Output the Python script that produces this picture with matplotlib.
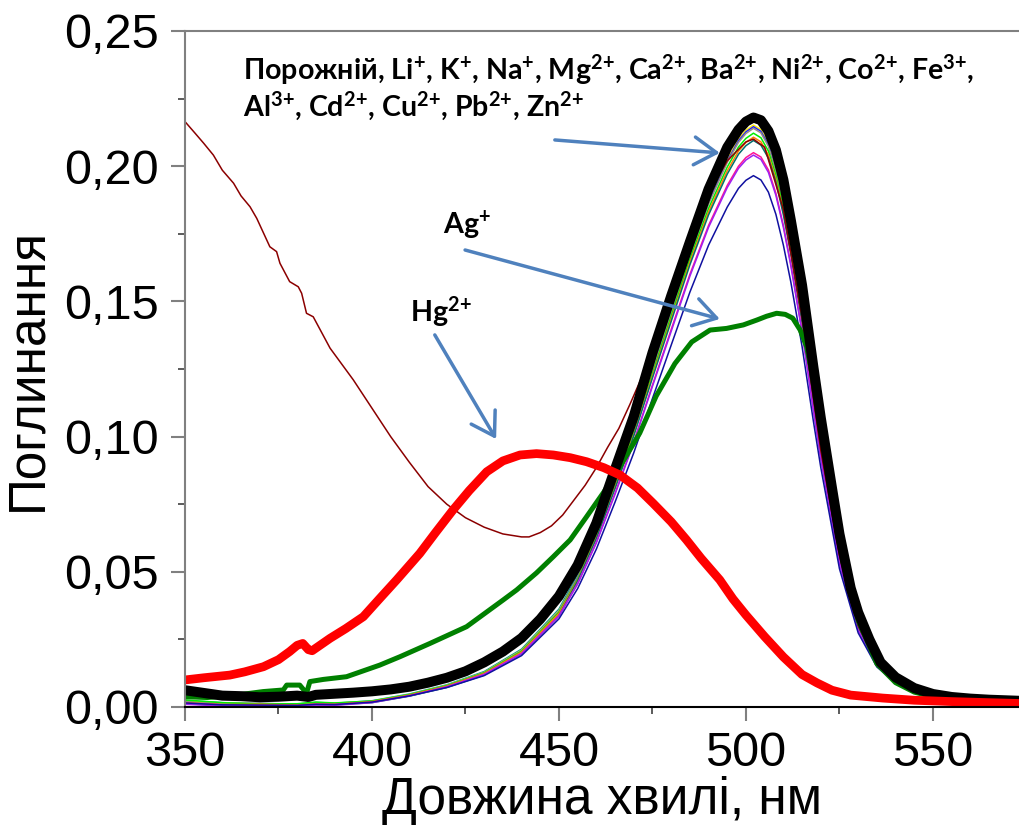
import numpy as np
import matplotlib.pyplot as plt
import matplotlib.ticker as ticker

# ---- data ----
wl_black = [350, 355, 360, 365, 370, 375, 380, 383, 385, 390, 395, 400, 405, 410, 415, 420, 425,
            430, 435, 440, 445, 450, 455, 460, 465, 470, 475, 480, 485, 490, 495, 498, 500, 502,
            504, 506, 508, 510, 512, 515, 518, 520, 523, 525, 528, 530, 533, 536, 540, 545, 550,
            555, 560, 565, 573]
a_black = [0.0062, 0.0052, 0.0042, 0.0040, 0.0036, 0.0038, 0.0042, 0.0037, 0.0045, 0.0049, 0.0053,
           0.0058, 0.0065, 0.0075, 0.0090, 0.0108, 0.0132, 0.0165, 0.0205, 0.0255, 0.0325, 0.0410,
           0.0525, 0.0680, 0.0880, 0.1075, 0.1310, 0.1520, 0.1720, 0.1915, 0.2070, 0.2135, 0.2165,
           0.2180, 0.2170, 0.2130, 0.2060, 0.1950, 0.1800, 0.1560, 0.1260, 0.1070, 0.0810, 0.0640,
           0.0440, 0.0350, 0.0250, 0.0165, 0.0110, 0.0070, 0.0048, 0.0037, 0.0031, 0.0027, 0.0023]

wl_red = [350, 355, 362, 366, 371, 375, 378, 380, 381.5, 383, 384, 388.8, 393, 397.7, 402, 406.6,
          412.8, 417, 421.7, 426, 430.7, 435, 439.6, 444, 448.5, 453, 457.4, 462, 466.3, 471,
          475.2, 480, 484.1, 488, 493, 496.5, 500, 505, 510, 515, 519, 523, 528, 536.6, 545, 555,
          565, 573]
a_red = [0.0100, 0.0108, 0.0118, 0.0130, 0.0149, 0.0175, 0.0205, 0.0228, 0.0235, 0.0212, 0.0208,
         0.0254, 0.0290, 0.0334, 0.0400, 0.0470, 0.0568, 0.0645, 0.0729, 0.0800, 0.0870, 0.0910,
         0.0932, 0.0937, 0.0932, 0.0922, 0.0907, 0.0885, 0.0858, 0.0810, 0.0753, 0.0685, 0.0618,
         0.0550, 0.0470, 0.0400, 0.0340, 0.0260, 0.0185, 0.0120, 0.0089, 0.0062, 0.0044, 0.0033,
         0.0025, 0.0020, 0.0016, 0.0013]

wl_green = [350, 356, 363.8, 370.9, 376.3, 377.2, 380.7, 382.5, 383.4, 387, 393.2, 402.1, 407.5,
            415.5, 425.3, 435.1, 438.7, 444, 448.5, 453, 457.4, 462, 466.3, 471.6, 476, 481, 485.5,
            490.4, 494.8, 499.3, 502.9, 505.5, 508.2, 510.5, 512.5, 514.5, 516.2, 518, 520, 522.5,
            525, 528, 530, 535, 540, 545, 550, 560, 573]
a_green = [0.0038, 0.0035, 0.0044, 0.0057, 0.0063, 0.0081, 0.0081, 0.0051, 0.0094, 0.0102, 0.0112,
           0.0155, 0.0186, 0.0235, 0.0297, 0.0396, 0.0433, 0.0496, 0.0556, 0.0618, 0.0704, 0.0795,
           0.0889, 0.1013, 0.1150, 0.1270, 0.1350, 0.1394, 0.1400, 0.1413, 0.1431, 0.1445, 0.1456,
           0.1452, 0.1438, 0.1394, 0.1333, 0.1210, 0.1050, 0.0820, 0.0620, 0.0420, 0.0320, 0.0160,
           0.0090, 0.0055, 0.0038, 0.0025, 0.0020]

wl_brown = [350, 352.7, 355, 357.6, 360, 363, 365, 367.4, 369.2, 372.7, 374.5, 375.4, 378, 380.3,
            381.2, 382.5, 384.3, 388.8, 395, 400, 405, 410, 415, 420, 425, 430, 435, 440, 442, 445,
            448, 451, 454, 457, 460, 463, 466, 469, 472, 476, 480, 485, 490, 495, 500, 502, 505,
            510, 515, 520, 525, 530, 535, 540, 550, 560, 573]
a_brown = [0.2165, 0.2122, 0.2085, 0.2041, 0.1985, 0.1937, 0.1890, 0.1850, 0.1807, 0.1702, 0.1684,
           0.1641, 0.1573, 0.1554, 0.1530, 0.1456, 0.1443, 0.1327, 0.1210, 0.1105, 0.1000, 0.0905,
           0.0815, 0.0750, 0.0700, 0.0665, 0.0640, 0.0629, 0.0629, 0.0645, 0.0670, 0.0710, 0.0765,
           0.0820, 0.0885, 0.0960, 0.1030, 0.1120, 0.1215, 0.1370, 0.1520, 0.1720, 0.1900, 0.2020,
           0.2090, 0.2100, 0.2070, 0.1840, 0.1440, 0.0950, 0.0560, 0.0300, 0.0165, 0.0100, 0.0042,
           0.0028, 0.0019]

# thin curves of the other cations, common wavelength grid
wl_thin = [350, 360, 370, 380, 385, 390, 400, 410, 420, 430, 440, 450, 455, 460, 465, 470, 475, 480,
           485, 490, 495, 498, 500, 502, 504, 506, 508, 510, 512, 515, 518, 520, 525, 530, 535, 540,
           550, 560, 573]
a_cyan = [0.0024, 0.0016, 0.0013, 0.0011, 0.0017, 0.0014, 0.0023, 0.0048, 0.0082, 0.0131, 0.0214, 0.0362,
          0.0490, 0.0652, 0.0845, 0.1048, 0.1272, 0.1491, 0.1710, 0.1903, 0.2061, 0.2137, 0.2171, 0.2190,
          0.2173, 0.2122, 0.2030, 0.1903, 0.1750, 0.1486, 0.1181, 0.0987, 0.0570, 0.0305, 0.0163, 0.0097,
          0.0041, 0.0026, 0.0019]
a_yellow = [0.0022, 0.0014, 0.0012, 0.0010, 0.0016, 0.0013, 0.0021, 0.0046, 0.0080, 0.0128, 0.0210, 0.0356,
            0.0480, 0.0640, 0.0830, 0.1030, 0.1250, 0.1465, 0.1680, 0.1870, 0.2025, 0.2100, 0.2133, 0.2152,
            0.2135, 0.2085, 0.1995, 0.1870, 0.1720, 0.1460, 0.1160, 0.0970, 0.0560, 0.0300, 0.0160, 0.0095,
            0.0040, 0.0025, 0.0018]
a_blue = [0.0018, 0.0010, 0.0008, 0.0006, 0.0012, 0.0010, 0.0019, 0.0044, 0.0078, 0.0126, 0.0207, 0.0352,
          0.0479, 0.0638, 0.0828, 0.1027, 0.1247, 0.1461, 0.1675, 0.1865, 0.2019, 0.2094, 0.2127, 0.2146,
          0.2129, 0.2079, 0.1989, 0.1865, 0.1715, 0.1456, 0.1157, 0.0967, 0.0558, 0.0299, 0.0160, 0.0095,
          0.0040, 0.0025, 0.0018]
a_gray = [0.0020, 0.0012, 0.0014, 0.0009, 0.0014, 0.0012, 0.0020, 0.0045, 0.0079, 0.0127, 0.0208, 0.0354,
          0.0477, 0.0636, 0.0825, 0.1024, 0.1243, 0.1457, 0.1671, 0.1860, 0.2014, 0.2088, 0.2121, 0.2140,
          0.2123, 0.2073, 0.1984, 0.1860, 0.1710, 0.1452, 0.1154, 0.0965, 0.0557, 0.0298, 0.0159, 0.0094,
          0.0040, 0.0025, 0.0018]
a_lime = [0.0026, 0.0016, 0.0011, 0.0012, 0.0018, 0.0015, 0.0022, 0.0046, 0.0079, 0.0126, 0.0206, 0.0350,
          0.0473, 0.0631, 0.0818, 0.1016, 0.1233, 0.1445, 0.1657, 0.1844, 0.1997, 0.2071, 0.2103, 0.2122,
          0.2105, 0.2056, 0.1967, 0.1844, 0.1696, 0.1440, 0.1144, 0.0957, 0.0552, 0.0296, 0.0158, 0.0094,
          0.0040, 0.0025, 0.0018]
a_orange = [0.0016, 0.0009, 0.0010, 0.0007, 0.0011, 0.0010, 0.0020, 0.0044, 0.0077, 0.0124, 0.0203, 0.0346,
            0.0470, 0.0627, 0.0813, 0.1008, 0.1224, 0.1434, 0.1645, 0.1831, 0.1983, 0.2056, 0.2088, 0.2107,
            0.2090, 0.2041, 0.1953, 0.1831, 0.1684, 0.1429, 0.1136, 0.0950, 0.0548, 0.0294, 0.0157, 0.0093,
            0.0039, 0.0025, 0.0018]
a_teal = [0.0012, 0.0006, 0.0005, 0.0004, 0.0008, 0.0008, 0.0016, 0.0040, 0.0072, 0.0118, 0.0196, 0.0338,
          0.0467, 0.0623, 0.0808, 0.1003, 0.1217, 0.1426, 0.1635, 0.1820, 0.1971, 0.2044, 0.2076, 0.2095,
          0.2078, 0.2030, 0.1942, 0.1820, 0.1674, 0.1421, 0.1129, 0.0944, 0.0545, 0.0292, 0.0156, 0.0093,
          0.0039, 0.0024, 0.0017]
a_pink = [0.0014, 0.0008, 0.0006, 0.0005, 0.0010, 0.0009, 0.0018, 0.0042, 0.0075, 0.0121, 0.0198, 0.0338,
          0.0457, 0.0610, 0.0791, 0.0981, 0.1191, 0.1396, 0.1600, 0.1781, 0.1929, 0.2000, 0.2032, 0.2050,
          0.2034, 0.1986, 0.1900, 0.1781, 0.1638, 0.1391, 0.1105, 0.0924, 0.0533, 0.0286, 0.0153, 0.0092,
          0.0039, 0.0024, 0.0017]
a_purple = [0.0010, 0.0004, 0.0003, 0.0002, 0.0007, 0.0006, 0.0016, 0.0041, 0.0074, 0.0120, 0.0197, 0.0336,
            0.0455, 0.0607, 0.0787, 0.0977, 0.1186, 0.1389, 0.1593, 0.1774, 0.1921, 0.1992, 0.2023, 0.2041,
            0.2025, 0.1977, 0.1892, 0.1774, 0.1631, 0.1385, 0.1100, 0.0920, 0.0531, 0.0285, 0.0152, 0.0091,
            0.0039, 0.0024, 0.0017]
a_navy = [0.0015, 0.0008, 0.0007, 0.0006, 0.0010, 0.0009, 0.0018, 0.0041, 0.0072, 0.0116, 0.0190, 0.0326,
          0.0438, 0.0584, 0.0758, 0.0940, 0.1141, 0.1338, 0.1534, 0.1708, 0.1849, 0.1918, 0.1948, 0.1965,
          0.1949, 0.1904, 0.1822, 0.1708, 0.1571, 0.1333, 0.1059, 0.0886, 0.0511, 0.0274, 0.0148, 0.0090,
          0.0038, 0.0024, 0.0017]

thin_series = [a_cyan, a_yellow, a_blue, a_gray, a_lime, a_orange, a_teal, a_pink, a_purple, a_navy]
thin_colors = ['#009999', '#ffee00', '#2020ff', '#999080', '#00ee00', '#ff7f00', '#006f6f',
               '#ff1493', '#a020f0', '#1010a0']

x_ticks = [350, 400, 450, 500, 550]
y_ticks = [0.00, 0.05, 0.10, 0.15, 0.20, 0.25]

# ---- fonts ----
plt.rcParams['font.family'] = ['Liberation Sans', 'DejaVu Sans']
plt.rcParams['mathtext.fontset'] = 'custom'
plt.rcParams['mathtext.rm'] = 'Lato:bold'
plt.rcParams['mathtext.it'] = 'Lato:bold'
plt.rcParams['mathtext.bf'] = 'Lato:bold'

fig = plt.figure(figsize=(10.19, 8.35), dpi=100)
ax = fig.add_axes([0.1815, 0.1533, 0.8185, 0.8096])

for vals, col in zip(thin_series, thin_colors):
    ax.plot(wl_thin, vals, color=col, lw=1.1)
ax.plot(wl_brown, a_brown, color='#8b0000', lw=1.1)
ax.plot(wl_green, a_green, color='#008000', lw=3.6)
ax.plot(wl_black, a_black, color='black', lw=7.2)
ax.plot(wl_red, a_red, color='#ff0000', lw=6.3)

ax.set_xlim(350, 573)
ax.set_ylim(0, 0.25)
ax.set_xticks(x_ticks)
ax.set_yticks(y_ticks)
ax.xaxis.set_minor_locator(ticker.MultipleLocator(25))
ax.yaxis.set_minor_locator(ticker.MultipleLocator(0.025))
ax.yaxis.set_major_formatter(ticker.FuncFormatter(lambda v, p: f"{v:.2f}".replace('.', ',')))

ax.tick_params(which='major', direction='out', length=10, width=1.5, color='#808080',
               labelsize=35)
ax.tick_params(axis='x', which='major', pad=7)
ax.tick_params(axis='y', which='major', pad=9)
ax.tick_params(which='minor', direction='out', length=5, width=1.2, color='#404040')
ax.spines['right'].set_visible(False)
ax.spines['left'].set_color('#808080')
ax.spines['top'].set_color('#808080')
ax.spines['left'].set_linewidth(1.5)
ax.spines['top'].set_linewidth(1.5)
ax.spines['bottom'].set_linewidth(1.5)

ax.set_xlabel('Довжина хвилі, нм', fontsize=37, labelpad=0)
ax.set_ylabel('Поглинання', fontsize=37, labelpad=8)

lab = dict(fontsize=20.6, family='Lato', fontweight='bold', va='baseline', ha='left')
ax.text(365.5, 0.2319, r'Порожній, Li$^{+}$, K$^{+}$, Na$^{+}$, Mg$^{2{+}}$, Ca$^{2{+}}$, '
        r'Ba$^{2{+}}$, Ni$^{2{+}}$, Co$^{2{+}}$, Fe$^{3{+}}$,', **lab)
ax.text(365.5, 0.2182, r'Al$^{3{+}}$, Cd$^{2{+}}$, Cu$^{2{+}}$, Pb$^{2{+}}$, Zn$^{2{+}}$', **lab)
ax.text(419.0, 0.1750, r'Ag$^{+}$', **lab)
ax.text(410.2, 0.1424, r'Hg$^{2{+}}$', **lab)

arr = dict(arrowstyle='->, head_length=0.8, head_width=0.5', color='#4f81bd', lw=2.5,
           shrinkA=0, shrinkB=0, mutation_scale=20)
ax.annotate('', xy=(493.0, 0.2049), xytext=(448.9, 0.2097), arrowprops=arr)
ax.annotate('', xy=(493.0, 0.1435), xytext=(424.9, 0.1690), arrowprops=arr)
ax.annotate('', xy=(433.2, 0.0991), xytext=(416.8, 0.1376), arrowprops=arr)

fig.savefig('out.png', dpi=100)
